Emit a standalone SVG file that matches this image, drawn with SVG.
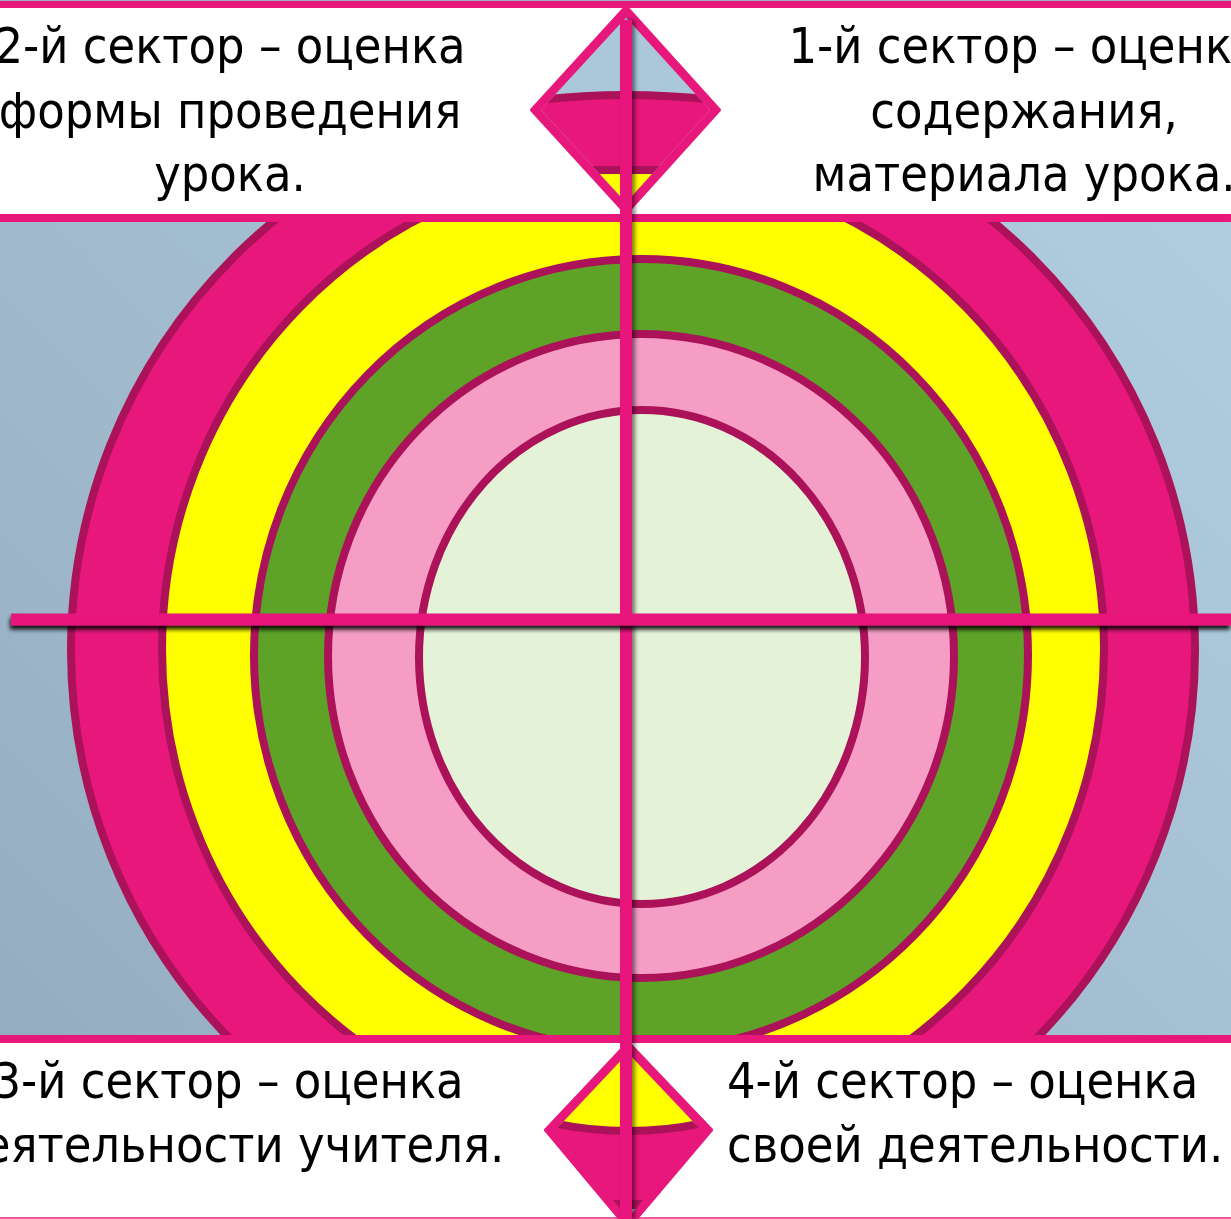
<svg xmlns="http://www.w3.org/2000/svg" width="1231" height="1219" viewBox="0 0 1231 1219">
<style>
.ring{stroke:#AB1259;stroke-width:8}
.lbl{font-family:'DejaVu Sans Condensed','DejaVu Sans',sans-serif;font-stretch:condensed;font-size:50px;fill:#000}
.mag{fill:#E8177C}
.dark{fill:#AB1259}
</style>
<defs>
<linearGradient id="bg" x1="0" y1="1" x2="1" y2="0">
<stop offset="0" stop-color="#93AABD"/>
<stop offset="1" stop-color="#B3D1E3"/>
</linearGradient>
<filter id="shH" x="-5%" y="-100%" width="110%" height="400%">
<feDropShadow dx="-1" dy="4" stdDeviation="2" flood-color="#000" flood-opacity="0.9"/>
</filter>
<filter id="shV" x="-200%" y="-5%" width="500%" height="110%">
<feDropShadow dx="3" dy="0" stdDeviation="2" flood-color="#000" flood-opacity="0.5"/>
</filter>
<clipPath id="tdClip"><polygon points="626,17.5 541,110 626,202.5 710,110"/></clipPath>
<clipPath id="bdClip"><polygon points="628,1053 555.5,1130 628,1218 701,1130"/></clipPath>
</defs>

<g id="background">
<rect x="0" y="0" width="1231" height="1219" fill="url(#bg)"/>
</g>

<g id="target">
<ellipse class="ring" cx="633" cy="650" rx="562" ry="558" fill="#E8177C"/>
<ellipse class="ring" cx="633" cy="649" rx="471" ry="483" fill="#FFFF00"/>
<ellipse class="ring" cx="641" cy="655" rx="387" ry="396" fill="#5EA228"/>
<ellipse class="ring" cx="641" cy="656" rx="313" ry="322" fill="#F59DC5"/>
<ellipse class="ring" cx="642" cy="657" rx="223" ry="247" fill="#E4F3D8"/>
</g>

<g id="top-panel">
<rect x="0" y="0" width="1231" height="1" fill="#9AB0C0"/>
<rect x="0" y="1" width="1231" height="7" class="mag"/>
<rect x="0" y="8" width="1231" height="206" fill="#FFFFFF"/>
<rect x="0" y="214" width="1231" height="8" class="mag"/>
</g>

<g id="bottom-panel">
<rect x="0" y="1035" width="1231" height="8" class="mag"/>
<rect x="0" y="1043" width="1231" height="174" fill="#FFFFFF"/>
<rect x="0" y="1217" width="1231" height="2" fill="#EE5A9E"/>
</g>

<g id="top-diamond">
<polygon points="626,7 532,110 626,213 719,110" class="mag" stroke="#E8177C" stroke-width="4" stroke-linejoin="round"/>
<g clip-path="url(#tdClip)">
<rect x="530" y="0" width="200" height="220" fill="#AAC8D9"/>
<circle cx="626" cy="851" r="756" fill="#E8177C" stroke="#AB1259" stroke-width="8"/>
<rect x="530" y="166" width="200" height="8" class="dark"/>
<rect x="530" y="174" width="200" height="50" fill="#FFFF00"/>
</g>
</g>

<g id="bottom-diamond">
<polygon points="628,1043 546,1130 628,1228 711,1130" class="mag" stroke="#E8177C" stroke-width="4" stroke-linejoin="round"/>
<g clip-path="url(#bdClip)">
<rect x="540" y="1040" width="180" height="190" fill="#E8177C"/>
<circle cx="628" cy="775" r="356" fill="#FFFF00" stroke="#AB1259" stroke-width="8"/>
<rect x="540" y="1200" width="180" height="30" class="dark"/>
<rect x="540" y="1209" width="180" height="20" fill="#AAC8D9"/>
</g>
</g>

<g id="connectors">
<rect id="v-bar" x="620" y="20" width="12" height="1199" class="mag" filter="url(#shV)"/>
<rect id="h-bar" x="11" y="613.5" width="1220" height="12" class="mag" filter="url(#shH)"/>
</g>

<g id="label-sector2">
<text class="lbl" text-anchor="middle"><tspan x="230" y="63">2-й сектор – оценка</tspan><tspan x="230" y="128">формы проведения</tspan><tspan x="230" y="191">урока.</tspan></text>
</g>
<g id="label-sector1">
<text class="lbl" text-anchor="middle"><tspan x="1024" y="63">1-й сектор – оценка</tspan><tspan x="1024" y="128">содержания,</tspan><tspan x="1024" y="191">материала урока.</tspan></text>
</g>
<g id="label-sector3">
<text class="lbl" text-anchor="middle"><tspan x="228" y="1098">3-й сектор – оценка</tspan><tspan x="228" y="1162">деятельности учителя.</tspan></text>
</g>
<g id="label-sector4">
<text class="lbl"><tspan x="727" y="1098">4-й сектор – оценка</tspan><tspan x="727" y="1162">своей деятельности.</tspan></text>
</g>
</svg>
